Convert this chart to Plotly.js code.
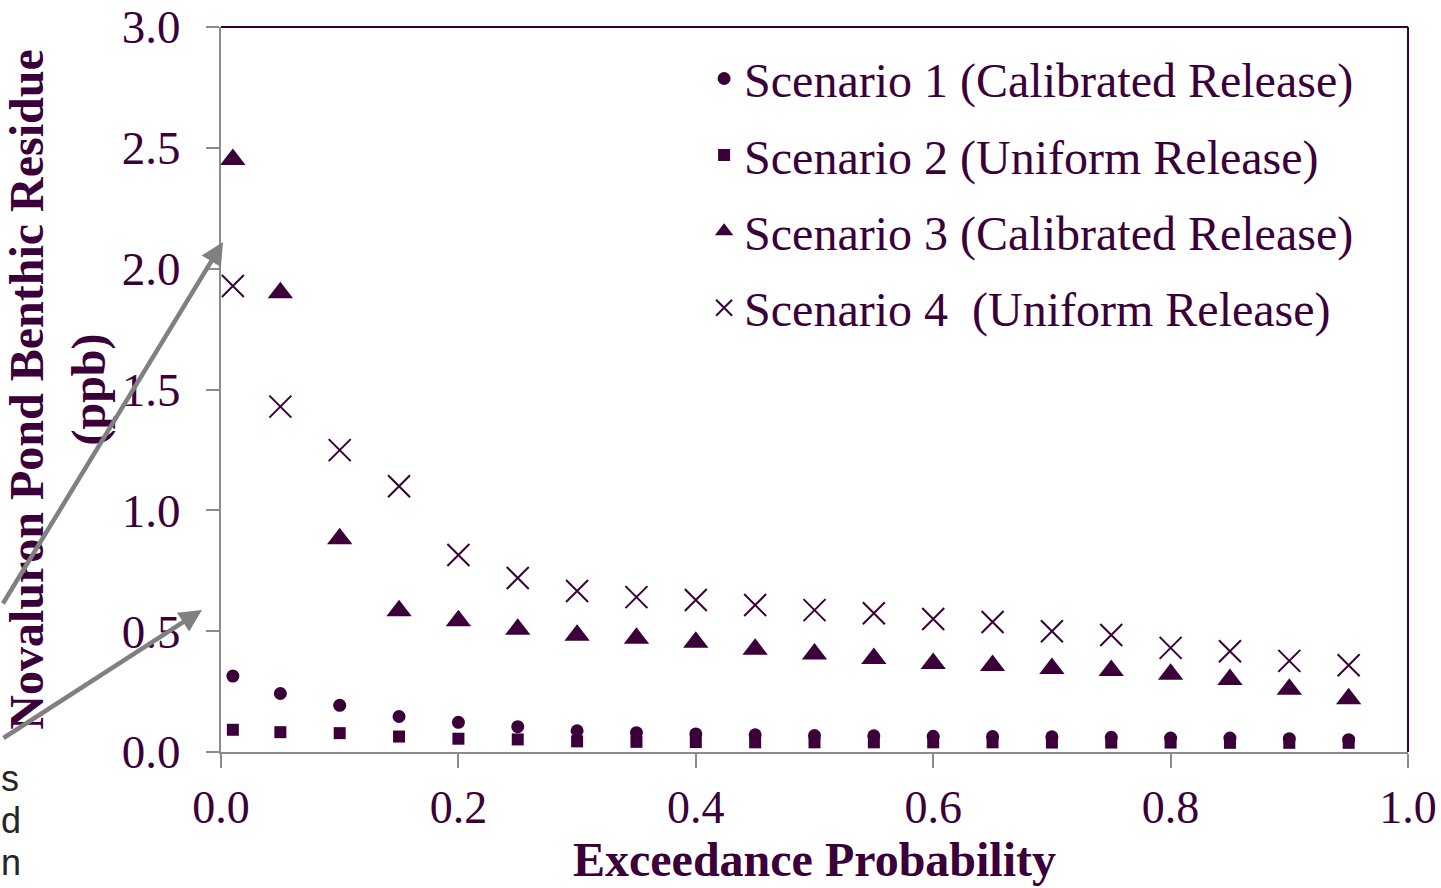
<!DOCTYPE html>
<html>
<head>
<meta charset="utf-8">
<script src="https://cdn.plot.ly/plotly-3.0.1.min.js"></script>
<style>html,body{margin:0;padding:0;background:#fff;}#chart{width:1441px;height:888px;}</style>
</head>
<body>
<div id="chart"></div>
<script>
const exceedanceProbability = [0.01,0.05,0.10,0.15,0.20,0.25,0.30,0.35,0.40,0.45,0.50,0.55,0.60,0.65,0.70,0.75,0.80,0.85,0.90,0.95];
const scenario1 = [0.314,0.242,0.193,0.147,0.123,0.105,0.088,0.080,0.075,0.071,0.068,0.067,0.065,0.064,0.063,0.061,0.058,0.058,0.055,0.051];
const scenario2 = [0.092,0.082,0.078,0.064,0.055,0.052,0.044,0.042,0.041,0.040,0.040,0.040,0.040,0.040,0.039,0.039,0.039,0.038,0.038,0.038];
const scenario3 = [2.452,1.900,0.882,0.585,0.543,0.508,0.483,0.471,0.454,0.425,0.406,0.387,0.366,0.358,0.346,0.337,0.322,0.300,0.260,0.220];
const scenario4 = [1.928,1.429,1.249,1.100,0.815,0.720,0.666,0.641,0.629,0.608,0.587,0.574,0.550,0.538,0.500,0.484,0.431,0.417,0.377,0.359];
const seriesNames = ['Scenario 1 (Calibrated Release)','Scenario 2 (Uniform Release)','Scenario 3 (Calibrated Release)','Scenario 4  (Uniform Release)'];
const xTitle = 'Exceedance Probability';
const yTitle = 'Novaluron Pond Benthic Residue<br>(ppb)';
const edgeLetters = ['s','d','n'];

const PURPLE = '#3b0039';
const GRAY = '#8c8a8e';
const SERIF = '"Liberation Serif", "Times New Roman", serif';
const SANS = '"Liberation Sans", Arial, sans-serif';

const traces = [
  {x: exceedanceProbability, y: scenario1, name: seriesNames[0], legendgroup:'g1', mode:'markers', type:'scatter',
   marker:{symbol:'circle', size:13, color:PURPLE}},
  {x: exceedanceProbability, y: scenario2, name: seriesNames[1], legendgroup:'g2', mode:'markers', type:'scatter',
   marker:{symbol:'square', size:12, color:PURPLE}},
  {x: exceedanceProbability, y: scenario3, name: seriesNames[2], legendgroup:'g3', mode:'markers', type:'scatter',
   marker:{symbol:'triangle-up', size:22, color:PURPLE}},
  {x: exceedanceProbability, y: scenario4, name: seriesNames[3], legendgroup:'g4', mode:'markers', type:'scatter',
   marker:{symbol:'x-thin-open', size:22, color:PURPLE, line:{color:PURPLE, width:2}}}
];

const letterY = [-0.036, -0.094, -0.152];
const annotations = [
  {xref:'paper', yref:'paper', x:0.0017, y:0.7034, text:'', showarrow:true, arrowhead:2, arrowsize:1,
   arrowwidth:4.5, arrowcolor:'#808080', axref:'pixel', ayref:'pixel', ax:-221, ay:363, standoff:0},
  {xref:'paper', yref:'paper', x:-0.016, y:0.1959, text:'', showarrow:true, arrowhead:2, arrowsize:1,
   arrowwidth:4.5, arrowcolor:'#808080', axref:'pixel', ayref:'pixel', ax:-200, ay:129, standoff:0}
];
edgeLetters.forEach(function(t, i){
  annotations.push({xref:'paper', yref:'paper', x:-0.1862, y:letterY[i], xanchor:'left', yanchor:'middle',
    text:t, showarrow:false, borderpad:0, font:{family:SANS, size:36, color:'#262626'}});
});

const layout = {
  width:1441, height:888,
  margin:{l:221, r:33, t:27, b:136},
  paper_bgcolor:'#ffffff', plot_bgcolor:'#ffffff',
  font:{family:SERIF, color:PURPLE},
  showlegend:true,
  legend:{x:0.407, xanchor:'left', y:0.981, yanchor:'top', bgcolor:'rgba(0,0,0,0)',
          font:{family:SERIF, size:48, color:PURPLE}, tracegroupgap:11, traceorder:'grouped'},
  xaxis:{range:[0,1], tick0:0, dtick:0.2, tickformat:'.1f', showgrid:false, zeroline:false,
         showline:true, linecolor:GRAY, linewidth:2, ticks:'outside', ticklen:14, tickwidth:2, tickcolor:GRAY,
         tickfont:{family:SERIF, size:46, color:PURPLE},
         title:{text:xTitle, standoff:6, font:{family:SERIF, size:48, color:PURPLE, weight:'bold'}}},
  yaxis:{range:[0,3], tick0:0, dtick:0.5, tickformat:'.1f', showgrid:false, zeroline:false,
         showline:true, linecolor:GRAY, linewidth:2, ticks:'outside', ticklen:13, tickwidth:2, tickcolor:GRAY,
         tickfont:{family:SERIF, size:47, color:PURPLE}, ticklabelstandoff:16,
         title:{text:yTitle, standoff:4, font:{family:SERIF, size:48, color:PURPLE, weight:'bold'}}},
  shapes:[
    {type:'line', xref:'paper', yref:'paper', x0:0, x1:1, y0:1, y1:1, line:{color:PURPLE, width:2}},
    {type:'line', xref:'paper', yref:'paper', x0:1, x1:1, y0:0, y1:1, line:{color:PURPLE, width:2}}
  ],
  annotations: annotations
};

Plotly.newPlot('chart', traces, layout, {displayModeBar:false, staticPlot:true});
</script>
</body>
</html>
